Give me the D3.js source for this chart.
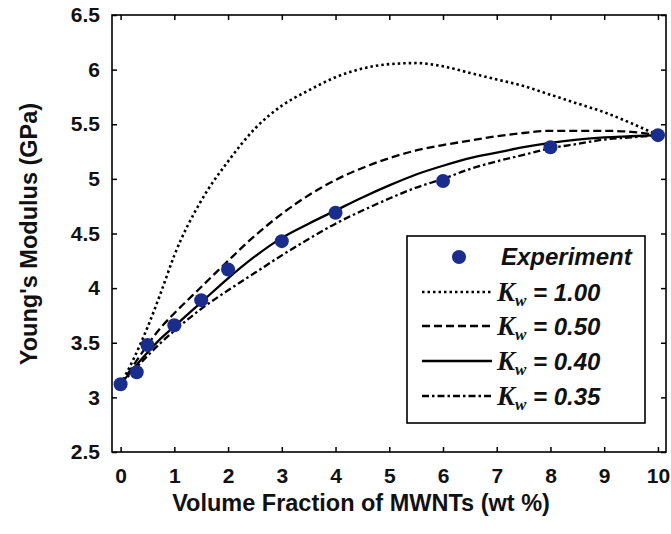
<!DOCTYPE html>
<html><head><meta charset="utf-8">
<script src="https://cdn.jsdelivr.net/npm/d3@7"></script>
<style>
body{margin:0;background:#fff;}
svg{display:block;}
text{font-family:"Liberation Sans",Arial,sans-serif;}
</style></head>
<body><svg id="chart" width="671" height="534"></svg>
<script>
// ---- data ----
const expX = [0, 0.3, 0.5, 1, 1.5, 2, 3, 4, 6, 8, 10];
const expY = [3.12, 3.23, 3.48, 3.66, 3.89, 4.17, 4.43, 4.69, 4.98, 5.29, 5.40];

const curveX = [0, 0.25, 0.5, 0.75, 1, 1.5, 2, 2.5, 3, 3.5, 4, 4.5, 5, 5.5, 6, 6.5, 7, 7.5, 8, 8.5, 9, 9.5, 10];
const kw100 = [3.12, 3.36, 3.64, 3.96, 4.30, 4.80, 5.16, 5.46, 5.67, 5.81, 5.93, 6.01, 6.05, 6.06, 6.03, 5.97, 5.91, 5.85, 5.77, 5.69, 5.61, 5.51, 5.40];
const kw050 = [3.12, 3.30, 3.48, 3.64, 3.77, 4.01, 4.25, 4.48, 4.68, 4.85, 4.99, 5.10, 5.19, 5.26, 5.31, 5.35, 5.39, 5.42, 5.44, 5.44, 5.44, 5.43, 5.40];
const kw040 = [3.12, 3.27, 3.41, 3.54, 3.65, 3.87, 4.09, 4.29, 4.46, 4.59, 4.71, 4.83, 4.94, 5.04, 5.12, 5.19, 5.24, 5.29, 5.33, 5.36, 5.38, 5.39, 5.40];
const kw035 = [3.12, 3.25, 3.38, 3.50, 3.61, 3.81, 3.98, 4.14, 4.30, 4.45, 4.59, 4.71, 4.82, 4.92, 5.00, 5.09, 5.16, 5.22, 5.28, 5.32, 5.36, 5.38, 5.40];

const seriesLabels = ["1.00", "0.50", "0.40", "0.35"];
const xTicks = [0,1,2,3,4,5,6,7,8,9,10];
const yTicks = [2.5,3,3.5,4,4.5,5,5.5,6,6.5];
const xTitle = "Volume Fraction of MWNTs (wt %)";
const yTitle = "Young's Modulus (GPa)";

// ---- layout ----
const L = 112, R = 666, T = 15, B = 452;
const svg = d3.select("#chart");
const x = d3.scaleLinear().domain([-0.16, 10.15]).range([L, R]);
const y = d3.scaleLinear().domain([2.5, 6.5]).range([B, T]);

const fmt = d => d3.format("~g")(d);
const styleAxis = g => {
  g.select(".domain").remove();
  g.selectAll(".tick line").attr("stroke", "#000").attr("stroke-width", 1.5);
  g.selectAll(".tick text").attr("fill", "#111").attr("font-size", 21).attr("font-weight", "bold")
    .attr("font-family", "'Liberation Sans', Arial, sans-serif");
};

svg.append("g").attr("transform", `translate(0,${B})`)
  .call(d3.axisBottom(x).tickValues(xTicks).tickFormat(fmt).tickSize(-5).tickPadding(16))
  .call(styleAxis);
svg.append("g").attr("transform", `translate(0,${T})`)
  .call(d3.axisTop(x).tickValues(xTicks).tickFormat("").tickSize(-5))
  .call(styleAxis);
svg.append("g").attr("transform", `translate(${L},0)`)
  .call(d3.axisLeft(y).tickValues(yTicks).tickFormat(fmt).tickSize(-5).tickPadding(12))
  .call(styleAxis);
svg.append("g").attr("transform", `translate(${R},0)`)
  .call(d3.axisRight(y).tickValues(yTicks).tickFormat("").tickSize(-5))
  .call(styleAxis);

svg.append("rect").attr("x", L).attr("y", T).attr("width", R - L).attr("height", B - T)
  .attr("fill", "none").attr("stroke", "#000").attr("stroke-width", 1.6);

// ---- curves ----
const dashes = ["2.5,3", "8,4", null, "7,3,2.5,3"];
const allSeries = [kw100, kw050, kw040, kw035];
const line = d3.line().x((d, i) => x(curveX[i])).y(d => y(d)).curve(d3.curveMonotoneX);
allSeries.forEach((s, k) => {
  svg.append("path").datum(s).attr("d", line)
    .attr("fill", "none").attr("stroke", "#000").attr("stroke-width", k === 0 ? 2.6 : 2.3)
    .attr("stroke-dasharray", dashes[k]);
});

// ---- experiment points ----
svg.selectAll("circle.exp").data(expX).enter().append("circle")
  .attr("class", "exp")
  .attr("cx", d => x(d)).attr("cy", (d, i) => y(expY[i])).attr("r", 7)
  .attr("fill", "#1b2d8c");

// ---- legend ----
const lg = svg.append("g");
lg.append("rect").attr("x", 407).attr("y", 236).attr("width", 238).attr("height", 187)
  .attr("fill", "#fff").attr("stroke", "#000").attr("stroke-width", 1.6);
const rowY = [257, 292, 326, 361, 396];
lg.append("circle").attr("cx", 459).attr("cy", rowY[0]).attr("r", 7).attr("fill", "#1b2d8c");
lg.append("text").attr("x", 501).attr("y", rowY[0] + 8).attr("font-size", 24)
  .attr("font-weight", "bold").attr("font-style", "italic").attr("fill", "#111").text("Experiment");
seriesLabels.forEach((lab, k) => {
  const yy = rowY[k + 1];
  lg.append("line").attr("x1", 422).attr("x2", 492).attr("y1", yy).attr("y2", yy)
    .attr("stroke", "#000").attr("stroke-width", 2.6).attr("stroke-dasharray", dashes[k]);
  const t = lg.append("text").attr("x", 497).attr("y", yy + 9).attr("font-size", 24)
    .attr("font-weight", "bold").attr("font-style", "italic").attr("fill", "#111");
  t.append("tspan").attr("font-family", "'Liberation Serif','Times New Roman',serif").attr("font-size", 27).text("K");
  t.append("tspan").attr("font-family", "'Liberation Serif','Times New Roman',serif").attr("font-size", 17)
    .attr("dy", 5).text("w");
  t.append("tspan").attr("dy", -5).text(" = " + lab);
});

// ---- titles ----
svg.append("text").attr("x", 361).attr("y", 511).attr("text-anchor", "middle")
  .attr("font-size", 23.5).attr("font-weight", "bold").attr("fill", "#111").text(xTitle);
svg.append("text").attr("transform", "translate(37,234) rotate(-90)").attr("text-anchor", "middle")
  .attr("font-size", 23.5).attr("font-weight", "bold").attr("fill", "#111").text(yTitle);
</script></body></html>
